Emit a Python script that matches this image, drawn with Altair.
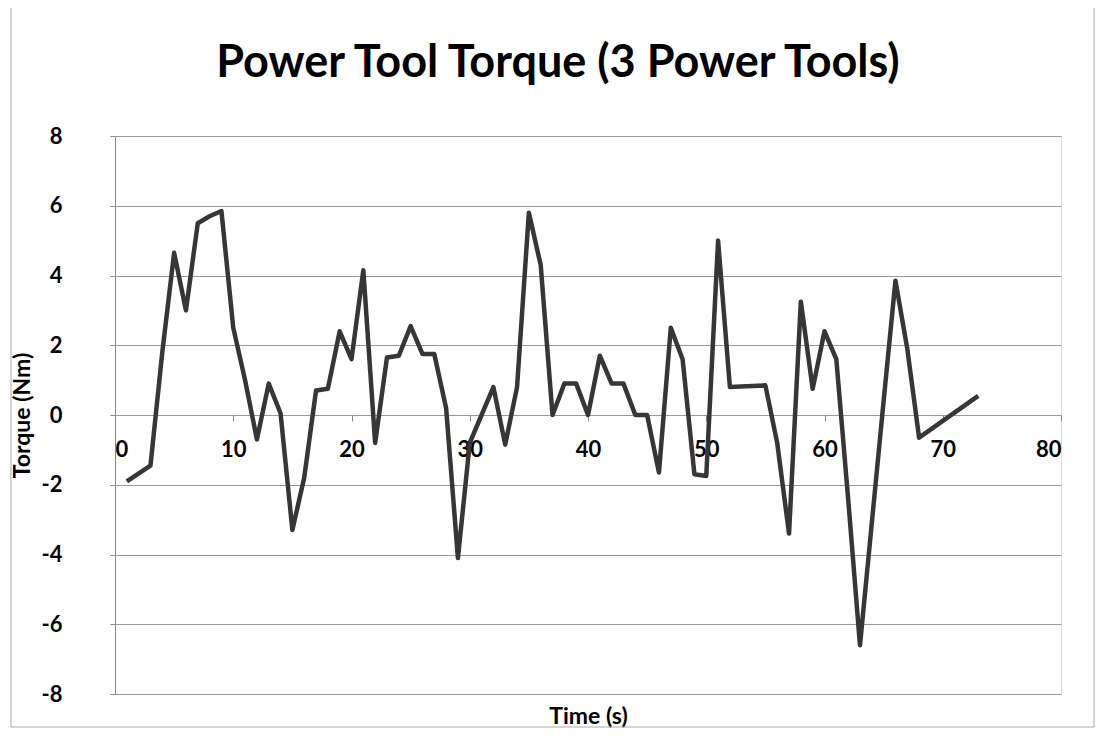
import altair as alt
import pandas as pd

time_s = [1, 3, 4, 5, 6, 7, 8, 9, 10, 11, 12, 13, 14, 15, 16, 17, 18, 19, 20,
          21, 22, 23, 24, 25, 26, 27, 28, 29, 30, 31, 32, 33, 34, 35, 36, 37,
          38, 39, 40, 41, 42, 43, 44, 45, 46, 47, 48, 49, 50, 51, 52, 55, 56,
          57, 58, 59, 60, 61, 62, 63, 64, 65, 66, 67, 68, 73]
torque = [-1.9, -1.45, 1.8, 4.65, 3.0, 5.5, 5.7, 5.85, 2.5, 1.0, -0.7, 0.9,
          0.05, -3.3, -1.8, 0.7, 0.75, 2.4, 1.6, 4.15, -0.8, 1.65, 1.7, 2.55,
          1.75, 1.75, 0.2, -4.1, -0.8, 0.0, 0.8, -0.85, 0.8, 5.8, 4.3, 0.0,
          0.9, 0.9, 0.0, 1.7, 0.9, 0.9, 0.0, 0.0, -1.65, 2.5, 1.6, -1.7,
          -1.75, 5.0, 0.8, 0.85, -0.8, -3.4, 3.25, 0.75, 2.4, 1.6, -2.4,
          -6.6, -3.1, 0.4, 3.85, 1.9, -0.65, 0.55]
x_ticks = [0, 10, 20, 30, 40, 50, 60, 70, 80]
y_ticks = [-8, -6, -4, -2, 0, 2, 4, 6, 8]
title_text = ["Power Tool Torque (3 Power Tools)"]

W, H = 946, 558
FONT = "Lato"
HYPHEN_LABEL = "datum.value < 0 ? '-' + abs(datum.value) : '' + datum.value"

df = pd.DataFrame({"t": time_s, "torque": torque})

line = alt.Chart(df).mark_line(color="#363636", strokeWidth=4.5, strokeJoin="round").encode(
    x=alt.X("t:Q",
            scale=alt.Scale(domain=[0, 80], nice=False),
            axis=alt.Axis(values=x_ticks, offset=-H / 2, domain=False, grid=False,
                          ticks=True, tickSize=6, tickColor="#888888",
                          labelFontSize=22, labelFont=FONT, labelFontWeight="bold",
                          labelColor="#000000", labelPadding=18,
                          title="Time (s)", titleFont=FONT, titleFontSize=23,
                          titleFontWeight="bold", titleColor="#000000",
                          titleY=301, titleBaseline="middle")),
    y=alt.Y("torque:Q",
            scale=alt.Scale(domain=[-8, 8], nice=False),
            axis=alt.Axis(values=y_ticks, domain=True, domainColor="#888888",
                          grid=True, gridColor="#999999", gridWidth=1,
                          ticks=True, tickSize=5, tickColor="#888888",
                          labelExpr=HYPHEN_LABEL,
                          labelFontSize=22, labelFont=FONT, labelFontWeight="bold",
                          labelColor="#000000", labelPadding=48,
                          title="Torque (Nm)", titleFont=FONT, titleFontSize=23,
                          titleFontWeight="bold", titleColor="#000000",
                          titleX=-93, titleY=H / 2, titleAngle=-90,
                          titleAlign="center", titleBaseline="middle")),
    order="t:Q",
)

frame = alt.Chart(pd.DataFrame({"a": [0]})).mark_rect(
    fill=None, stroke="#aaaaaa", strokeWidth=1
).encode(
    x=alt.value(-104), x2=alt.value(W + 33),
    y=alt.value(-131), y2=alt.value(H + 33),
)

title = alt.Chart(pd.DataFrame({"label": title_text})).mark_text(
    font=FONT, fontSize=45, fontWeight="bold", color="#000000",
    align="center", baseline="alphabetic"
).encode(
    text="label:N",
    x=alt.value(W / 2 - 30),
    y=alt.value(-59),
)

chart = alt.layer(frame, line, title).properties(
    width=W, height=H,
    autosize=alt.AutoSizeParams(type="none"),
    padding={"left": 107, "top": 128, "right": 35, "bottom": 35},
).configure_view(stroke=None).configure(background="white")

chart.save("out.html", embed_options={"renderer": "svg", "actions": False})
